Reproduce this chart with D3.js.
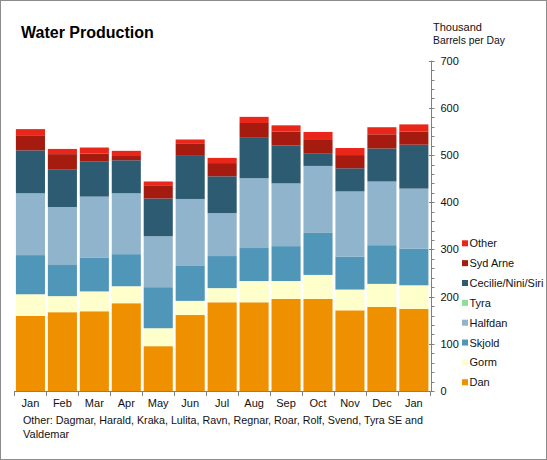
<!DOCTYPE html>
<html>
<head>
<meta charset="utf-8">
<script src="https://cdn.jsdelivr.net/npm/d3@7"></script>
<style>
  html, body { margin: 0; padding: 0; background: #fff; }
  svg { display: block; font-family: "Liberation Sans", Arial, sans-serif; }
</style>
</head>
<body>
<svg id="chart" width="547" height="460"></svg>
<script>
const months = ["Jan","Feb","Mar","Apr","May","Jun","Jul","Aug","Sep","Oct","Nov","Dec","Jan"];
const dan     = [159, 167, 169, 186, 95, 161, 188, 188, 195, 195, 171, 178, 174];
const gorm    = [46, 34, 42, 36, 38, 30, 30, 45, 38, 51, 44, 49, 50];
const skjold  = [83, 66, 72, 68, 87, 74, 68, 70, 74, 89, 70, 82, 78];
const halfdan = [131, 123, 129, 129, 108, 142, 91, 148, 133, 142, 138, 135, 127];
const tyra    = [0, 0, 0, 0, 0, 0, 0, 0, 0, 0, 0, 0, 0];
const cecilie = [91, 80, 74, 70, 80, 93, 78, 87, 80, 27, 49, 70, 93];
const sydArne = [32, 32, 17, 9, 28, 25, 28, 30, 30, 28, 28, 30, 28];
const other   = [13, 11, 13, 11, 8, 8, 11, 13, 13, 17, 15, 15, 15];
const seriesNames = ["Dan","Gorm","Skjold","Halfdan","Tyra","Cecilie/Nini/Siri","Syd Arne","Other"];
const seriesValues = [dan, gorm, skjold, halfdan, tyra, cecilie, sydArne, other];
const seriesColors = ["#EF9000","#FFFFCC","#5096B9","#8FB4CB","#90DC98","#2D5B72","#A61B10","#E8261A"];
const yTicks = [0,100,200,300,400,500,600,700];

const svg = d3.select("#chart");

// frame
svg.append("rect").attr("x",0.5).attr("y",0.5).attr("width",546).attr("height",459)
  .attr("fill","#fff").attr("stroke","#8c8c8c").attr("stroke-width",1);

const table = months.map((m,i) => {
  const row = {idx: i};
  seriesNames.forEach((s,k) => row[s] = seriesValues[k][i]);
  return row;
});
const stack = d3.stack().keys(seriesNames)(table);

const x = d3.scaleBand().domain(d3.range(months.length)).range([14.3, 430])
  .paddingInner(0.09).paddingOuter(0.05);
const y = d3.scaleLinear().domain([0,700]).range([391, 60.7]);

// bars
stack.forEach((layer,k) => {
  svg.append("g").attr("fill", seriesColors[k])
    .selectAll("rect").data(layer).join("rect")
    .attr("x", d => x(d.data.idx))
    .attr("width", x.bandwidth())
    .attr("y", d => y(d[1]))
    .attr("height", d => Math.max(0, y(d[0]) - y(d[1])));
});

const axisColor = "#808080";
// x axis
const gx = svg.append("g");
gx.append("line").attr("x1",14.3).attr("x2",430).attr("y1",391.5).attr("y2",391.5)
  .attr("stroke",axisColor);
const step = x.step();
const x0 = x.range()[0];
d3.range(months.length+1).forEach(i => {
  const xx = Math.round(x0 + i*step) + 0.5;
  gx.append("line").attr("x1",xx).attr("x2",xx).attr("y1",391).attr("y2",396)
    .attr("stroke",axisColor);
});
gx.selectAll("text.m").data(months).join("text")
  .attr("x",(d,i)=> x(i) + x.bandwidth()/2)
  .attr("y",406.5)
  .attr("text-anchor","middle")
  .attr("font-size","11px").attr("fill","#111")
  .text(d=>d);

// y axis (right)
const yAxisX = 431.5;
const gy = svg.append("g");
gy.append("line").attr("x1",yAxisX).attr("x2",yAxisX).attr("y1",y(700)).attr("y2",y(0))
  .attr("stroke",axisColor);
d3.range(0,701,20).forEach(v => {
  const yy = Math.round(y(v)) + 0.5;
  const major = v % 100 === 0;
  gy.append("line").attr("x1", major ? yAxisX-2.5 : yAxisX).attr("x2", yAxisX+3)
    .attr("y1",yy).attr("y2",yy).attr("stroke",axisColor);
});
gy.selectAll("text").data(yTicks).join("text")
  .attr("x",440.5).attr("y",d=>y(d)+4)
  .attr("font-size","11px").attr("fill","#111")
  .text(d=>d);

// title
svg.append("text").attr("x",21).attr("y",38).attr("font-size","16px").attr("font-weight","bold")
  .attr("fill","#000").text("Water Production");
svg.append("text").attr("x",433).attr("y",30.5).attr("font-size","11px").attr("fill","#111").text("Thousand");
svg.append("text").attr("x",433).attr("y",44).attr("font-size","11px").attr("fill","#111")
  .attr("textLength",72).attr("lengthAdjust","spacingAndGlyphs").text("Barrels per Day");

// legend
const legendOrder = d3.range(seriesNames.length).reverse();
const lg = svg.append("g");
legendOrder.forEach((k,j) => {
  const cy = 243.3 + j*19.85;
  lg.append("rect").attr("x",462).attr("y",cy-3).attr("width",6).attr("height",6).attr("fill",seriesColors[k]);
  lg.append("text").attr("x",469.5).attr("y",cy+4).attr("font-size","11px").attr("fill","#111").text(seriesNames[k]);
});

// footnote
svg.append("text").attr("x",23).attr("y",424).attr("font-size","11px").attr("fill","#111")
  .attr("textLength",400).attr("lengthAdjust","spacingAndGlyphs")
  .text("Other: Dagmar, Harald, Kraka, Lulita, Ravn, Regnar, Roar, Rolf, Svend, Tyra SE and");
svg.append("text").attr("x",23).attr("y",437.5).attr("font-size","11px").attr("fill","#111")
  .text("Valdemar");
</script>
</body>
</html>
